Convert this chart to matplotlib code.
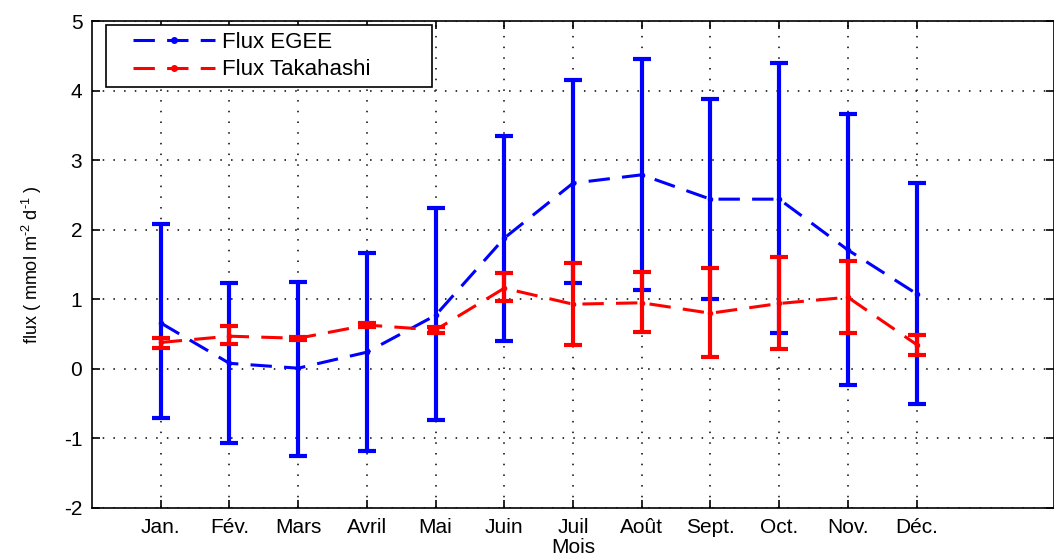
import numpy as np
import matplotlib
matplotlib.use("Agg")
import matplotlib.pyplot as plt
from matplotlib.lines import Line2D
from matplotlib.legend_handler import HandlerLine2D

plt.rcParams['font.family'] = ['Liberation Sans', 'DejaVu Sans']
plt.rcParams['axes.unicode_minus'] = False
plt.rcParams['mathtext.default'] = 'regular'

# ── data ──────────────────────────────────────────────────────────────────────
months = ["Jan.", "Fév.", "Mars", "Avril", "Mai", "Juin", "Juil",
          "Août", "Sept.", "Oct.", "Nov.", "Déc."]

egee_mean = [0.66, 0.08, 0.01, 0.24, 0.77, 1.88, 2.67, 2.79, 2.44, 2.44, 1.71, 1.08]
egee_low = [-0.71, -1.07, -1.25, -1.18, -0.73, 0.40, 1.24, 1.14, 1.01, 0.51, -0.23, -0.50]
egee_high = [2.08, 1.24, 1.25, 1.67, 2.31, 3.35, 4.15, 4.45, 3.88, 4.40, 3.66, 2.67]

taka_mean = [0.38, 0.47, 0.44, 0.63, 0.56, 1.16, 0.93, 0.95, 0.80, 0.94, 1.03, 0.35]
taka_low = [0.30, 0.36, 0.41, 0.60, 0.52, 0.98, 0.34, 0.53, 0.17, 0.29, 0.51, 0.20]
taka_high = [0.45, 0.61, 0.46, 0.66, 0.60, 1.38, 1.52, 1.39, 1.45, 1.61, 1.55, 0.49]

x = np.arange(1, len(months) + 1)
DASH = (0, (7, 4))


def yerr(mean, low, high):
    m = np.array(mean)
    return [m - np.array(low), np.array(high) - m]


fig = plt.figure(figsize=(10.54, 5.55), dpi=100)
ax = fig.add_axes([0.0873, 0.0847, 0.9127, 0.8773])

ax.errorbar(x, egee_mean, yerr=yerr(egee_mean, egee_low, egee_high),
            color="#0000ff", ls=DASH, lw=2.2, marker=".", ms=6,
            elinewidth=3, capsize=6.5, capthick=3, zorder=3)
ax.errorbar(x, taka_mean, yerr=yerr(taka_mean, taka_low, taka_high),
            color="#ff0000", ls=DASH, lw=2.2, marker=".", ms=6,
            elinewidth=3, capsize=6.5, capthick=3, zorder=4)

ax.set_xlim(0, 14)
ax.set_ylim(-2, 5)
ax.set_xticks(x)
ax.set_xticklabels(months)
ax.set_yticks(range(-2, 6))
ax.tick_params(direction="in", top=True, right=True, labelsize=15, length=6,
               width=1.2, pad=7)
ax.grid(True, color="black", linestyle=(0, (1, 6)), linewidth=1.1)
ax.set_axisbelow(True)
for s in ax.spines.values():
    s.set_linewidth(1.2)

ax.set_xlabel("Mois", fontsize=15, labelpad=1)
ax.set_ylabel("flux ( mmol m$^{\u20102}$ d$^{\u20101}$ )", fontsize=13, labelpad=14)

handles = [
    Line2D([], [], color="#0000ff", ls=DASH, lw=2.2, marker=".", ms=8),
    Line2D([], [], color="#ff0000", ls=DASH, lw=2.2, marker=".", ms=8),
]
leg = ax.legend(handles, ["Flux EGEE", "Flux Takahashi"], loc="upper left",
                mode="expand", bbox_to_anchor=(0.0146, 0, 0.339, 0.992),
                handler_map={Line2D: HandlerLine2D(xpad=0.9)},
                fontsize=16, frameon=True, fancybox=False, edgecolor="black",
                handlelength=4.6, handletextpad=0.33, borderpad=0.3,
                labelspacing=0.3, borderaxespad=0, framealpha=1)
leg.get_frame().set_linewidth(1.2)

fig.savefig("out.png", dpi=100)
